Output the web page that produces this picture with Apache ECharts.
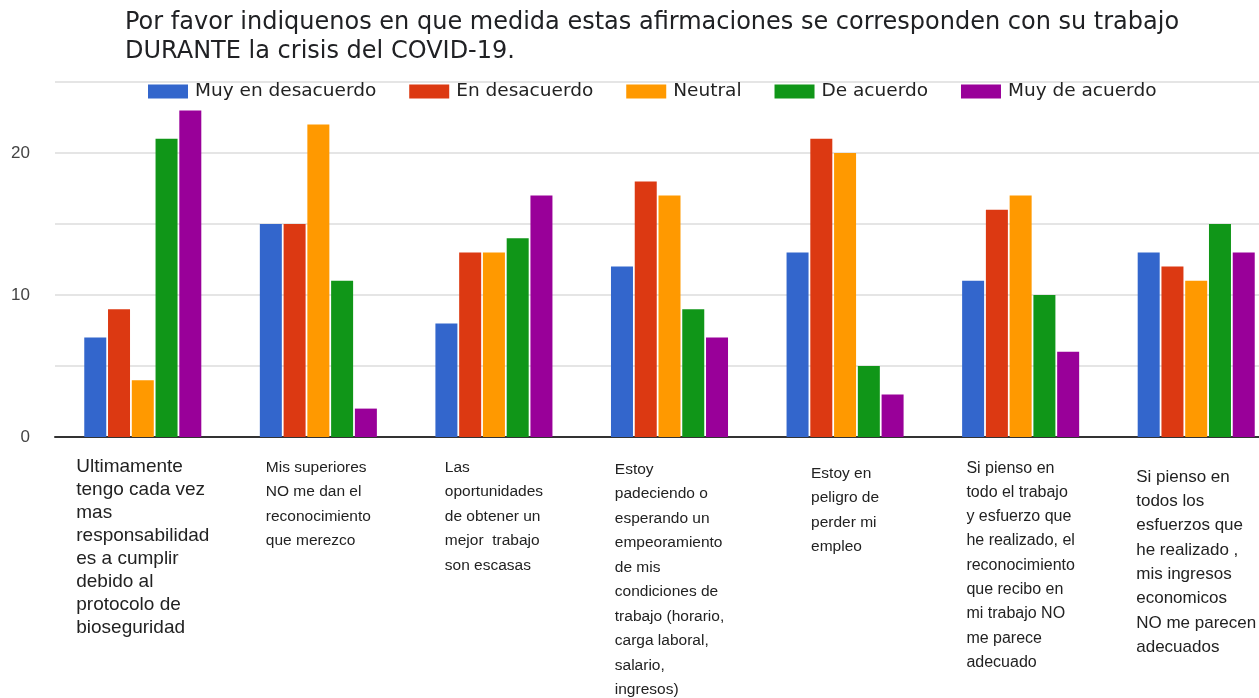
<!DOCTYPE html>
<html>
<head>
<meta charset="utf-8">
<script src="https://cdn.jsdelivr.net/npm/echarts@6/dist/echarts.min.js"></script>
<style>
html,body{margin:0;padding:0;background:#fff;}
#chart{width:1259px;height:698px;}
</style>
</head>
<body>
<div id="chart"></div>
<script>
const titleText = 'Por favor indiquenos en que medida estas afirmaciones se corresponden con su trabajo\nDURANTE la crisis del COVID-19.';
const categories = [
  'Ultimamente\ntengo cada vez\nmas\nresponsabilidad\nes a cumplir\ndebido al\nprotocolo de\nbioseguridad',
  'Mis superiores\nNO me dan el\nreconocimiento\nque merezco',
  'Las\noportunidades\nde obtener un\nmejor  trabajo\nson escasas',
  'Estoy\npadeciendo o\nesperando un\nempeoramiento\nde mis\ncondiciones de\ntrabajo (horario,\ncarga laboral,\nsalario,\ningresos)',
  'Estoy en\npeligro de\nperder mi\nempleo',
  'Si pienso en\ntodo el trabajo\ny esfuerzo que\nhe realizado, el\nreconocimiento\nque recibo en\nmi trabajo NO\nme parece\nadecuado',
  'Si pienso en\ntodos los\nesfuerzos que\nhe realizado ,\nmis ingresos\neconomicos\nNO me parecen\nadecuados'
];
const seriesNames = ['Muy en desacuerdo', 'En desacuerdo', 'Neutral', 'De acuerdo', 'Muy de acuerdo'];
const muyEnDesacuerdo = [7, 15, 8, 12, 13, 11, 13];
const enDesacuerdo    = [9, 15, 13, 18, 21, 16, 12];
const neutral         = [4, 22, 13, 17, 20, 17, 11];
const deAcuerdo       = [21, 11, 14, 9, 5, 10, 15];
const muyDeAcuerdo    = [23, 2, 17, 7, 3, 6, 13];
const yTickLabels = ['0', '10', '20'];

const seriesData = [muyEnDesacuerdo, enDesacuerdo, neutral, deAcuerdo, muyDeAcuerdo];
const colors = ['#3366cc', '#dc3912', '#ff9900', '#109618', '#990099'];
const labelStyleKey = ['a', 'b', 'b', 'b', 'b', 'd', 'c'];
const labelSpacer = [0, 0, 0, 2, 6, 1, 10];

const chart = echarts.init(document.getElementById('chart'));
chart.setOption({
  animation: false,
  color: colors,
  title: {
    text: titleText,
    left: 120,
    top: 3,
    textStyle: {
      fontFamily: 'DejaVu Sans',
      fontSize: 24,
      fontWeight: 'normal',
      lineHeight: 29,
      color: '#202124'
    }
  },
  legend: {
    top: 77,
    left: 143,
    itemWidth: 40,
    itemHeight: 14,
    itemGap: 33,
    icon: 'rect',
    textStyle: {
      fontFamily: 'DejaVu Sans',
      fontSize: 18.5,
      color: '#222',
      padding: [0, 0, 0, 2]
    }
  },
  grid: {
    left: 55,
    width: 1229,
    top: 82,
    bottom: 261,
    outerBoundsMode: 'none',
    containLabel: false
  },
  xAxis: {
    type: 'category',
    data: categories,
    axisTick: { show: false },
    axisLine: { lineStyle: { color: '#333', width: 2 } },
    axisLabel: {
      interval: 0,
      margin: 18,
      align: 'center',
      verticalAlign: 'top',
      formatter: function (value, idx) {
        const k = labelStyleKey[idx];
        let s = value.split('\n').map(function (line) { return '{' + k + '|' + line + '}'; }).join('\n');
        if (labelSpacer[idx] > 0) {
          s = '{sp' + idx + '| }\n' + s;
        }
        return s;
      },
      rich: {
        a: { fontFamily: 'Liberation Sans', fontSize: 19, lineHeight: 23, color: '#222', align: 'left' },
        b: { fontFamily: 'Liberation Sans', fontSize: 15.5, lineHeight: 24.5, color: '#222', align: 'left' },
        d: { fontFamily: 'Liberation Sans', fontSize: 16, lineHeight: 24.3, color: '#222', align: 'left' },
        c: { fontFamily: 'Liberation Sans', fontSize: 17, lineHeight: 24.3, color: '#222', align: 'left' },
        sp3: { fontSize: 1, lineHeight: 2 },
        sp4: { fontSize: 1, lineHeight: 6 },
        sp5: { fontSize: 1, lineHeight: 1 },
        sp6: { fontSize: 1, lineHeight: 10 }
      }
    }
  },
  yAxis: {
    type: 'value',
    min: 0,
    max: 25,
    interval: 5,
    axisLine: { show: false },
    axisTick: { show: false },
    splitLine: { lineStyle: { color: '#dddddd', width: 1.5 } },
    axisLabel: {
      margin: 25,
      fontFamily: 'Liberation Sans',
      fontSize: 17,
      color: '#444',
      formatter: function (v) {
        const s = String(v);
        return yTickLabels.indexOf(s) >= 0 ? s : '';
      }
    }
  },
  series: seriesNames.map(function (name, i) {
    return {
      name: name,
      type: 'bar',
      data: seriesData[i],
      barWidth: 22,
      barGap: '8%'
    };
  })
});
</script>
</body>
</html>
